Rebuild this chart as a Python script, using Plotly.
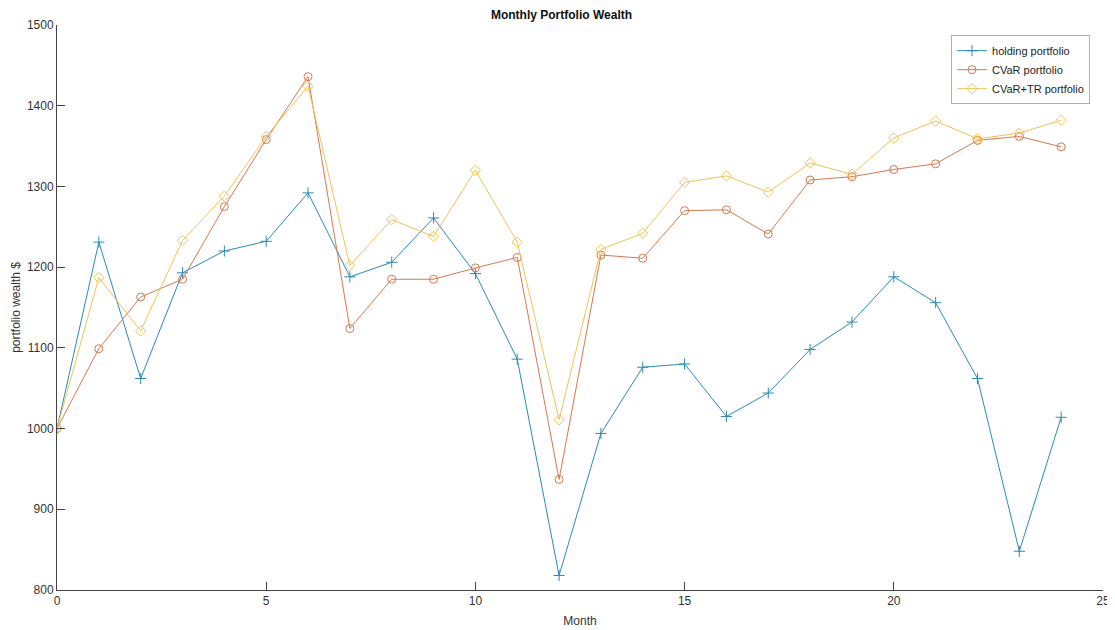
import plotly.graph_objects as go

months = list(range(25))
holding = [1000, 1231, 1062, 1193, 1220, 1232, 1292, 1188, 1206, 1261, 1192, 1086, 818,
           994, 1076, 1080, 1015, 1044, 1098, 1132, 1188, 1156, 1062, 848, 1014]
cvar = [1000, 1099, 1163, 1185, 1275, 1358, 1436, 1124, 1185, 1185, 1199, 1212, 937,
        1215, 1211, 1270, 1271, 1241, 1308, 1312, 1321, 1328, 1357, 1362, 1349]
cvar_tr = [1000, 1187, 1121, 1233, 1288, 1362, 1424, 1202, 1259, 1238, 1320, 1231, 1011,
           1222, 1242, 1305, 1313, 1293, 1329, 1315, 1360, 1381, 1359, 1366, 1382]

series = [
    ("holding portfolio", holding, "#2b8ab5", "cross-thin-open"),
    ("CVaR portfolio", cvar, "#d4784f", "circle-open"),
    ("CVaR+TR portfolio", cvar_tr, "#ebc457", "diamond-open"),
]

fig = go.Figure()
for name, vals, color, sym in series:
    fig.add_trace(go.Scatter(
        x=months, y=vals, name=name, mode="lines+markers",
        line=dict(color=color, width=1),
        marker=dict(symbol=sym, size=8, color=color, line=dict(color=color, width=1)),
    ))

axis_common = dict(
    showgrid=False, zeroline=False, showline=True, linecolor="#444", linewidth=1,
    ticks="inside", ticklen=8, tickcolor="#444", tickfont=dict(size=12, color="#333"),
    mirror=False, automargin=False,
)
fig.update_layout(
    width=1107, height=622,
    margin=dict(l=49, r=12, t=17, b=40),
    paper_bgcolor="white", plot_bgcolor="white",
    font=dict(family="Liberation Sans, Arial, sans-serif", color="#333"),
    title=dict(text="<b>Monthly Portfolio Wealth</b>", x=0.5, xanchor="center",
               y=0.989, yanchor="middle", font=dict(size=12, color="#111"), automargin=False),
    xaxis=dict(range=[0, 25], tickvals=[0, 5, 10, 15, 20, 25],
               title=dict(text="Month", font=dict(size=12), standoff=9), **axis_common),
    yaxis=dict(range=[800, 1500], tickvals=[800, 900, 1000, 1100, 1200, 1300, 1400, 1500],
               title=dict(text="portfolio wealth $", font=dict(size=12), standoff=3), **axis_common),
    legend=dict(x=0.9876, y=0.982, xanchor="right", yanchor="top",
                bgcolor="white", bordercolor="#b0b0b0", borderwidth=1,
                font=dict(size=11, color="#222"), tracegroupgap=0, itemwidth=30),
    showlegend=True,
)
fig.write_html("out.html")
